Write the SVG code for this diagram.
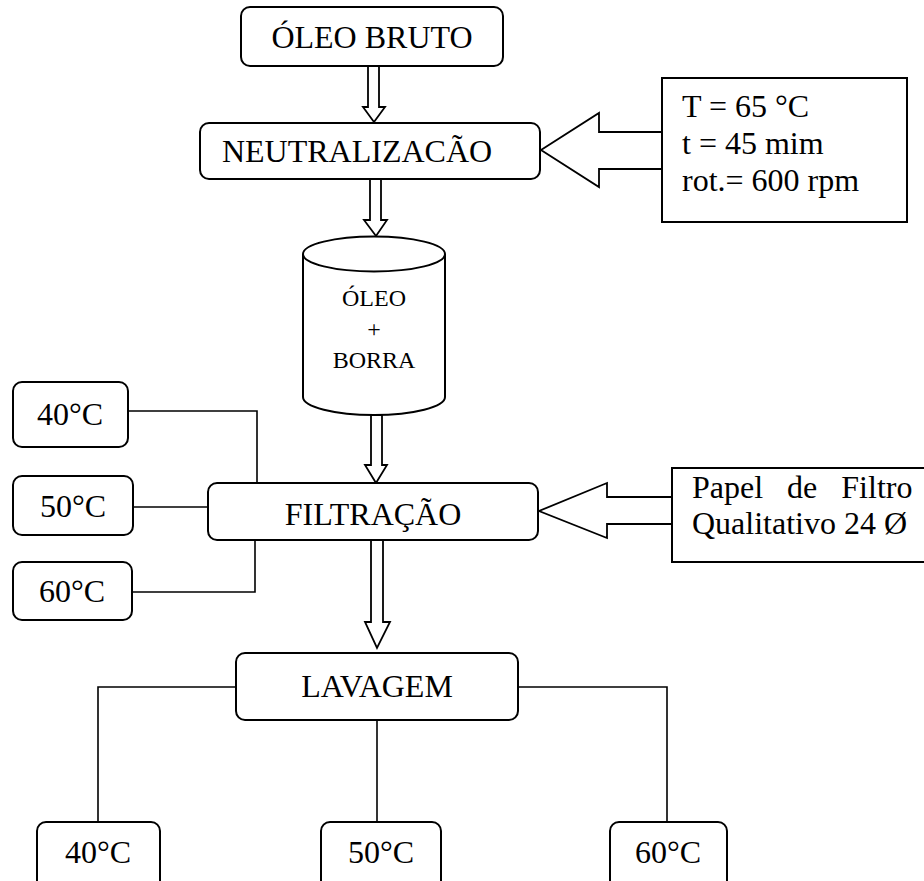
<svg xmlns="http://www.w3.org/2000/svg" width="924" height="881" viewBox="0 0 924 881">
<style>
.box{fill:#fff;stroke:#000;stroke-width:2}
.ln{fill:none;stroke:#000;stroke-width:1.6}
.ha{fill:#fff;stroke:#000;stroke-width:1.8;stroke-linejoin:miter}
text{font-family:"Liberation Serif","Times New Roman",serif;font-size:32px;fill:#000}
.c{text-anchor:middle}
.s{font-size:24px}
</style>
<rect width="924" height="881" fill="#fff"/>
<g id="connectors">
<polygon class="ha" points="368,66 379,66 379,107 385,107 374,122 363,107 368,107"/>
<polygon class="ha" points="370,179 381,179 381,220 387,220 376,236 364,220 370,220"/>
<polygon class="ha" points="371,415 382,415 382,465 387,465 376,483 365,465 371,465"/>
<polygon class="ha" points="371,540 383,540 383,622 390,622 377,648 365,622 371,622"/>
<polygon class="ha" points="662,132 599,132 599,113 541,150 599,187 599,169 662,169"/>
<polygon class="ha" points="672,497 607,497 607,483 539,511 607,538 607,524 672,524"/>
<polyline class="ln" points="128,411 257,411 257,483"/>
<polyline class="ln" points="133,507 208,507"/>
<polyline class="ln" points="132,592 255,592 255,540"/>
<polyline class="ln" points="236,687 98,687 98,822"/>
<polyline class="ln" points="377,720 377,822"/>
<polyline class="ln" points="518,687 667,687 667,822"/>
</g>
<g id="oleo-bruto"><rect class="box" x="241" y="7" width="262" height="59" rx="9"/><text class="c" x="372" y="48">ÓLEO BRUTO</text></g>
<g id="neutralizacao"><rect class="box" x="200" y="123" width="340" height="56" rx="9"/><text class="c" x="357" y="162">NEUTRALIZACÃO</text></g>
<g id="condicoes"><rect class="box" x="662" y="78" width="245" height="144"/><text x="682" y="117">T = 65 °C</text><text x="682" y="154">t = 45 mim</text><text x="682" y="191">rot.= 600 rpm</text></g>
<g id="oleo-borra">
<path class="box" d="M303,254 L303,397 A71,18 0 0 0 445,397 L445,254"/>
<ellipse class="box" cx="374" cy="254" rx="71" ry="17.5"/>
<text class="c s" x="374" y="306">ÓLEO</text><text class="c s" x="374" y="337">+</text><text class="c s" x="374" y="368">BORRA</text>
</g>
<g id="filtracao"><rect class="box" x="208" y="483" width="330" height="57" rx="9"/><text class="c" x="373" y="525">FILTRAÇÃO</text></g>
<g id="papel"><rect class="box" x="672" y="468" width="262" height="94"/><text x="692" y="498" word-spacing="16">Papel de Filtro</text><text x="692" y="534">Qualitativo 24 Ø</text></g>
<g id="f40"><rect class="box" x="13" y="382" width="115" height="65" rx="9"/><text class="c" x="70" y="425">40°C</text></g>
<g id="f50"><rect class="box" x="13" y="476" width="120" height="59" rx="9"/><text class="c" x="73" y="517">50°C</text></g>
<g id="f60"><rect class="box" x="13" y="562" width="119" height="58" rx="9"/><text class="c" x="72" y="602">60°C</text></g>
<g id="lavagem"><rect class="box" x="236" y="653" width="282" height="67" rx="9"/><text class="c" x="377" y="697">LAVAGEM</text></g>
<g id="l40"><rect class="box" x="37" y="822" width="123" height="80" rx="9"/><text class="c" x="98" y="863">40°C</text></g>
<g id="l50"><rect class="box" x="321" y="822" width="120" height="80" rx="9"/><text class="c" x="381" y="863">50°C</text></g>
<g id="l60"><rect class="box" x="610" y="822" width="117" height="80" rx="9"/><text class="c" x="668" y="863">60°C</text></g>
</svg>
